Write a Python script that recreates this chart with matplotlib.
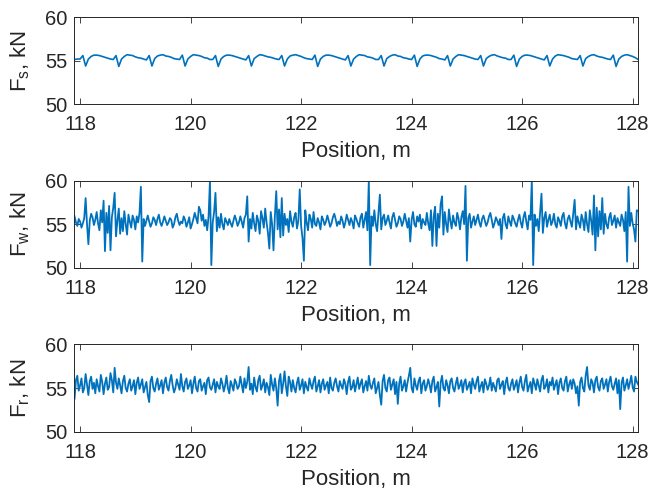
import numpy as np
import matplotlib
matplotlib.use("Agg")
import matplotlib.pyplot as plt

plt.rcParams['font.family'] = ['Liberation Sans', 'DejaVu Sans']
plt.rcParams['mathtext.fontset'] = 'custom'
plt.rcParams['mathtext.rm'] = 'Liberation Sans'

# position range (m)
x_start, x_end = 117.90, 128.10

# F_s, one sample every 0.05 m
fs_values = [
    55.15, 55.2, 55.2, 55.6,
    54.4, 55.2, 55.5, 55.65, 55.65, 55.6, 55.5, 55.4, 55.3, 55.2, 55.15, 55.6,
    54.35, 55.2, 55.5, 55.7, 55.65, 55.6, 55.45, 55.35, 55.3, 55.2, 55.1, 55.6,
    54.4, 55.25, 55.55, 55.65, 55.7, 55.55, 55.5, 55.4, 55.25, 55.2, 55.15, 55.65,
    54.4, 55.2, 55.5, 55.7, 55.65, 55.6, 55.5, 55.35, 55.3, 55.15, 55.15, 55.6,
    54.35, 55.2, 55.5, 55.65, 55.65, 55.6, 55.5, 55.4, 55.3, 55.2, 55.1, 55.6,
    54.4, 55.25, 55.5, 55.7, 55.65, 55.55, 55.45, 55.4, 55.3, 55.2, 55.15, 55.6,
    54.4, 55.2, 55.55, 55.65, 55.7, 55.6, 55.5, 55.35, 55.25, 55.2, 55.15, 55.65,
    54.35, 55.2, 55.5, 55.65, 55.65, 55.6, 55.5, 55.4, 55.3, 55.2, 55.1, 55.6,
    54.4, 55.2, 55.5, 55.7, 55.65, 55.6, 55.45, 55.4, 55.3, 55.15, 55.15, 55.6,
    54.4, 55.25, 55.5, 55.65, 55.7, 55.55, 55.5, 55.35, 55.3, 55.2, 55.15, 55.65,
    54.35, 55.2, 55.55, 55.65, 55.65, 55.6, 55.5, 55.4, 55.25, 55.2, 55.1, 55.6,
    54.4, 55.2, 55.5, 55.7, 55.65, 55.6, 55.5, 55.4, 55.3, 55.2, 55.15, 55.6,
    54.4, 55.25, 55.5, 55.65, 55.7, 55.55, 55.45, 55.35, 55.3, 55.15, 55.15, 55.65,
    54.35, 55.2, 55.5, 55.65, 55.65, 55.6, 55.5, 55.4, 55.3, 55.2, 55.1, 55.6,
    54.4, 55.2, 55.55, 55.7, 55.65, 55.6, 55.5, 55.4, 55.25, 55.2, 55.15, 55.6,
    54.4, 55.25, 55.5, 55.65, 55.7, 55.55, 55.45, 55.4, 55.3, 55.2, 55.15, 55.65,
    54.35, 55.2, 55.5, 55.65, 55.7, 55.6, 55.5, 55.35, 55.15,
]

# F_w, one sample every 0.025 m
fw_values = [
    55.9, 55.2, 54.8, 55.6, 55.3, 54.6, 55.1, 55.7, 58.0, 55.0, 52.7, 55.4, 56.2, 55.8, 54.9, 55.5,
    56.4, 55.1, 54.3, 56.6, 55.2, 57.7, 51.9, 56.3, 54.0, 57.1, 52.0, 55.8, 56.9, 58.6, 53.6, 55.4,
    56.8, 53.9, 55.7, 54.2, 56.5, 55.0, 53.8, 56.1, 55.3, 54.6, 56.0, 55.5, 54.4, 55.9, 55.2, 56.3,
    59.3, 50.7, 55.6, 54.8, 55.4, 56.0, 55.3, 54.7, 55.1, 55.8, 55.5, 54.9, 55.6, 56.1, 55.2, 54.8,
    55.3, 55.9, 55.4, 54.9, 55.2, 55.7, 55.5, 54.6, 55.0, 55.8, 56.2, 55.4, 54.9, 55.3, 55.1, 55.9,
    55.5, 54.7, 55.2, 55.8, 54.5, 55.0, 55.6, 56.3, 55.7, 55.1, 57.0, 56.6, 55.4, 56.1, 54.8, 55.5,
    54.3, 55.9, 60.0, 50.3, 55.2, 56.4, 58.6, 54.2, 55.8, 54.6, 56.2, 55.0, 54.4, 55.7, 55.3, 54.9,
    55.6, 55.1, 54.7, 55.4, 56.0, 55.5, 54.8, 55.2, 55.9, 55.3, 54.6, 55.7, 56.1, 58.2, 53.0, 55.6,
    54.5, 56.3, 55.1, 54.2, 56.0, 55.4, 53.9, 56.5, 55.7, 54.6, 56.8, 55.2, 54.0, 52.2, 56.4, 55.0,
    52.0, 55.9, 58.8, 54.4, 56.7, 53.5, 58.0, 53.7, 56.2, 54.9, 55.6, 54.1, 56.5, 55.3, 54.7, 55.8,
    56.3, 54.5, 55.4, 59.0, 54.8, 53.4, 50.8, 56.6, 55.2, 54.3, 56.1, 55.6, 54.6, 56.4, 55.0, 54.8,
    55.7, 55.2, 54.4, 55.9, 55.5, 54.9, 55.3, 56.0, 55.4, 54.7, 55.1, 55.8, 56.2, 55.6, 54.8, 55.3,
    55.0, 55.9, 55.4, 54.6, 55.2, 56.1, 55.5, 54.9, 55.7, 55.3, 54.5, 56.0, 55.6, 55.1, 54.7, 55.8,
    56.2, 54.6, 55.5, 56.4, 54.3, 60.0, 50.3, 55.9, 54.8, 56.6, 55.0, 54.2, 56.3, 58.4, 54.4, 55.7,
    56.1, 54.9, 55.4, 56.0, 55.2, 54.5, 55.8, 56.3, 55.5, 54.7, 55.1, 55.9, 55.6, 54.8, 55.3, 56.2,
    55.4, 54.6, 55.7, 53.0, 55.5, 56.4, 55.0, 54.7, 55.9, 55.3, 56.1, 54.5, 55.6, 55.2, 54.9, 56.3,
    55.1, 54.3, 56.6, 52.5, 55.9, 57.0, 52.5, 56.2, 54.6, 57.3, 58.2, 53.8, 56.4, 55.0, 54.1, 56.7,
    55.4, 54.5, 56.0, 55.2, 54.8, 56.3, 55.6, 54.4, 55.8, 56.5, 55.0, 59.4, 50.8, 55.7, 56.2, 54.6,
    55.3, 55.9, 54.9, 55.5, 56.1, 55.2, 54.7, 55.6, 56.0, 55.4, 54.8, 55.2, 55.9, 56.3, 55.5, 54.6,
    55.1, 55.8, 55.4, 54.9, 55.6, 53.3, 55.7, 56.2, 55.0, 54.5, 55.9, 55.3, 54.8, 56.0, 55.6, 55.1,
    54.7, 55.5, 56.1, 55.2, 54.6, 55.8, 56.4, 55.3, 54.4, 56.0, 55.5, 60.0, 50.3, 56.1, 54.8, 55.6,
    54.2, 56.3, 58.5, 54.0, 55.7, 56.4, 54.7, 55.5, 56.1, 54.9, 55.3, 56.2, 55.0, 54.6, 55.8, 55.4,
    54.8, 55.9, 56.3, 55.1, 54.5, 55.6, 56.0, 55.3, 54.7, 56.2, 57.8, 54.4, 55.9, 55.2, 54.6, 56.1,
    55.5, 54.3, 56.4, 55.0, 54.1, 56.6, 55.4, 53.8, 58.3, 52.0, 56.9, 53.6, 56.5, 54.4, 58.0, 53.9,
    56.2, 55.0, 54.5, 55.8, 56.3, 54.9, 55.4, 56.0, 54.6, 55.7, 55.2, 54.8, 56.1, 55.5, 54.2, 56.4,
    50.7, 59.3, 54.8, 56.3, 55.1, 54.4, 53.0, 56.6, 56.5,
]

# F_r, one sample every 0.025 m
fr_values = [
    53.8, 55.9, 56.4, 54.7, 55.3, 56.1, 54.5, 55.0, 56.6, 55.4, 54.2, 55.8, 56.3, 54.9, 55.6, 54.4,
    56.0, 55.2, 54.6, 56.5, 55.7, 54.3, 55.5, 56.2, 54.8, 55.1, 56.7, 55.9, 54.5, 57.3, 55.6, 54.9,
    56.1, 55.3, 54.4, 55.8, 56.4, 55.0, 54.6, 55.5, 56.0, 54.7, 55.2, 55.9, 54.3, 55.6, 56.2, 54.9,
    55.4, 56.0, 54.5, 55.1, 55.7, 54.2, 53.4, 55.8, 56.3, 55.0, 54.6, 55.5, 56.1, 54.8, 55.3, 55.9,
    54.4, 55.6, 56.2, 55.1, 54.7, 55.8, 56.5, 55.3, 54.5, 55.0, 56.0, 55.4, 54.8, 56.6, 55.2, 54.6,
    55.7, 56.1, 54.9, 55.3, 55.9, 54.4, 55.5, 56.3, 55.0, 54.6, 55.8, 56.0, 54.7, 55.2, 55.6, 54.3,
    55.9, 56.2, 55.1, 54.8, 55.4, 56.0, 54.5, 55.7, 55.2, 54.9, 56.1, 55.5, 54.6, 55.3, 56.4, 55.0,
    54.4, 55.8, 55.3, 54.7, 56.0, 55.6, 54.9, 55.2, 56.3, 55.4, 54.5, 56.1, 55.0, 55.7, 57.4, 54.8,
    55.5, 54.3, 56.2, 55.1, 54.6, 55.9, 56.4, 54.8, 55.3, 56.0, 54.5, 55.6, 55.1, 54.2, 56.5, 55.4,
    54.7, 56.1, 55.0, 53.0, 55.8, 56.6, 54.4, 55.5, 56.9, 55.2, 54.1, 56.3, 55.7, 54.6, 55.9, 55.0,
    54.5, 55.6, 56.2, 54.8, 55.3, 56.0, 54.4, 55.7, 55.1, 54.7, 56.1, 55.4, 54.9, 55.8, 56.3, 54.6,
    55.2, 55.9, 54.5, 55.5, 56.0, 54.8, 55.3, 55.7, 54.4, 56.2, 55.0, 54.7, 55.6, 56.1, 55.2, 54.6,
    55.8, 55.3, 54.9, 56.0, 55.5, 54.3, 55.7, 56.3, 54.8, 55.1, 55.9, 54.6, 55.4, 56.2, 54.9, 55.5,
    56.0, 54.5, 55.2, 55.8, 54.7, 56.4, 55.3, 54.9, 55.6, 56.1, 54.4, 55.0, 55.7, 54.2, 53.1, 55.8,
    56.5, 55.0, 54.6, 55.9, 56.2, 54.8, 55.4, 56.0, 54.3, 55.7, 53.2, 55.5, 56.3, 54.7, 55.2, 55.9,
    54.6, 55.6, 56.4, 57.3, 55.0, 54.5, 56.1, 55.3, 54.8, 55.8, 56.2, 54.4, 55.5, 55.9, 54.7, 55.2,
    56.0, 55.4, 54.5, 55.8, 56.3, 54.6, 55.1, 55.7, 52.9, 55.6, 56.4, 55.0, 54.7, 55.9, 55.3, 54.4,
    55.8, 56.1, 55.0, 54.6, 55.5, 56.2, 54.9, 55.3, 55.9, 54.5, 55.6, 56.0, 54.8, 55.2, 55.7, 54.4,
    56.1, 55.4, 54.9, 55.8, 56.3, 54.6, 55.2, 55.7, 54.5, 56.0, 55.5, 54.8, 55.3, 56.2, 54.7, 55.6,
    55.1, 54.6, 55.9, 56.1, 54.9, 55.4, 55.8, 54.3, 55.6, 56.2, 55.0, 54.7, 55.5, 56.0, 54.8, 55.3,
    55.9, 54.5, 55.6, 56.3, 55.1, 54.7, 55.8, 56.5, 54.6, 55.2, 55.7, 54.4, 56.1, 55.5, 54.8, 56.0,
    55.3, 54.6, 55.9, 56.4, 54.9, 55.2, 56.0, 54.5, 55.7, 55.3, 56.2, 54.8, 55.4, 55.9, 54.3, 55.6,
    56.1, 55.0, 54.7, 55.8, 56.3, 54.6, 55.4, 55.9, 54.9, 56.0, 55.5, 54.4, 55.2, 53.0, 55.7, 56.2,
    55.0, 54.6, 56.4, 57.4, 55.3, 54.8, 56.0, 55.6, 54.5, 55.9, 56.3, 55.1, 54.7, 55.8, 56.1, 54.9,
    55.4, 56.0, 54.6, 55.7, 56.3, 55.2, 54.8, 55.5, 56.1, 54.4, 55.9, 52.6, 55.6, 56.2, 54.7, 55.3,
    56.0, 54.9, 55.6, 56.4, 55.1, 54.6, 56.3, 55.7, 55.4,
]

ylabels = ['F$_\\mathregular{s}$, kN', 'F$_\\mathregular{w}$, kN', 'F$_\\mathregular{r}$, kN']
xticks = [118, 120, 122, 124, 126, 128]
yticks = [50, 55, 60]

line_color = '#0072BD'
axis_color = '#262626'

fig = plt.figure(figsize=(6.51, 4.91), dpi=100)
boxes = [
    [0.1137, 0.7876, 0.8666, 0.1772],
    [0.1137, 0.4548, 0.8666, 0.1772],
    [0.1137, 0.1202, 0.8666, 0.1790],
]
widths = [1.2, 1.3, 1.3]

for box, vals, lab, lw in zip(boxes, [fs_values, fw_values, fr_values], ylabels, widths):
    ax = fig.add_axes(box)
    pos = np.linspace(x_start, x_end, len(vals))
    ax.plot(pos, vals, color=line_color, linewidth=lw)
    ax.set_xlim(117.89, 128.1)
    ax.set_ylim(50, 60)
    ax.set_xticks(xticks)
    ax.set_yticks(yticks)
    ax.tick_params(direction='in', length=4, width=0.6, colors=axis_color,
                   labelsize=14.5, top=True, right=True, pad=5)
    ax.tick_params(axis='x', pad=8)
    for s in ax.spines.values():
        s.set_color(axis_color)
        s.set_linewidth(0.7)
    ax.set_xlabel('Position, m', fontsize=16, color=axis_color, labelpad=5)
    ax.set_ylabel(lab, fontsize=16, color=axis_color, labelpad=9)

fig.savefig('out.png', dpi=100)
